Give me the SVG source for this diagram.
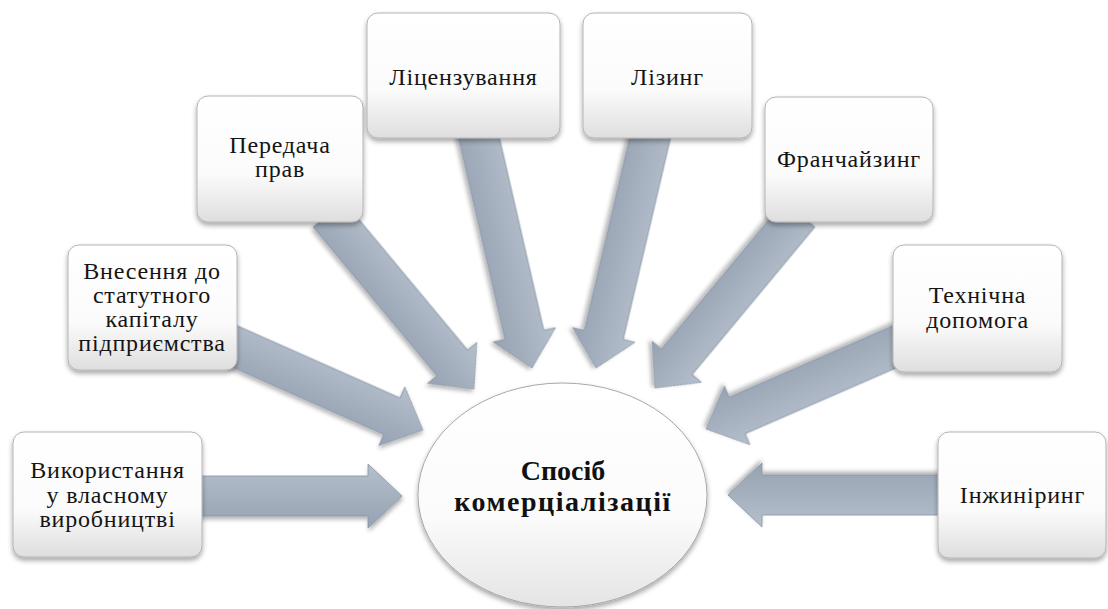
<svg xmlns="http://www.w3.org/2000/svg" width="1108" height="609" viewBox="0 0 1108 609">
  <defs>
    <linearGradient id="boxFill" x1="0" y1="0" x2="0" y2="1">
      <stop offset="0" stop-color="#ffffff"/>
      <stop offset="0.62" stop-color="#fbfbfb"/>
      <stop offset="1" stop-color="#dedede"/>
    </linearGradient>
    <linearGradient id="ellFill" x1="0" y1="0" x2="0" y2="1">
      <stop offset="0" stop-color="#ffffff"/>
      <stop offset="0.6" stop-color="#fbfbfb"/>
      <stop offset="1" stop-color="#e4e4e4"/>
    </linearGradient>
    <linearGradient id="arrowFill" x1="0" y1="0" x2="0" y2="1">
      <stop offset="0" stop-color="#b5bfcc"/>
      <stop offset="1" stop-color="#96a2b2"/>
    </linearGradient>
    <filter id="shadow" x="-20%" y="-20%" width="140%" height="150%">
      <feDropShadow dx="0" dy="3" stdDeviation="2.5" flood-color="#000" flood-opacity="0.35"/>
    </filter>
    <filter id="ashadow" x="-20%" y="-30%" width="140%" height="160%">
      <feDropShadow dx="1" dy="3" stdDeviation="2" flood-color="#000" flood-opacity="0.3"/>
    </filter>
  </defs>
  <style>
    .box { fill: url(#boxFill); stroke: #b4b4b4; stroke-width: 1; filter: url(#shadow); }
    .arrow { fill: url(#arrowFill); stroke: #8894a4; stroke-width: 0.8; filter: url(#ashadow); }
    .t { font-family: "Liberation Serif", "Times New Roman", serif; font-size: 24px; letter-spacing: 0.8px; fill: #141414; text-anchor: middle; }
    .tb { font-family: "Liberation Serif", "Times New Roman", serif; font-size: 28px; font-weight: bold; fill: #111; text-anchor: middle; }
  </style>
  <rect width="1108" height="609" fill="#ffffff"/>

  <g id="connectors">
    <path class="arrow" transform="translate(202,496) rotate(0)" d="M-10,-20 L166,-20 L166,-32 L200,0 L166,32 L166,20 L-10,20 Z"/>
    <path class="arrow" transform="translate(237,347.5) rotate(23.92)" d="M-10,-20 L169.5,-20 L169.5,-32 L203.5,0 L169.5,32 L169.5,20 L-10,20 Z"/>
    <path class="arrow" transform="translate(335,222) rotate(50.23)" d="M-10,-20 L183.3,-20 L183.3,-32 L217.3,0 L183.3,32 L183.3,20 L-10,20 Z"/>
    <path class="arrow" transform="translate(479,138) rotate(77.02)" d="M-10,-20 L202,-20 L202,-32 L236,0 L202,32 L202,20 L-10,20 Z"/>
    <path class="arrow" transform="translate(650,138) rotate(103.21)" d="M-10,-20 L202.3,-20 L202.3,-32 L236.3,0 L202.3,32 L202.3,20 L-10,20 Z"/>
    <path class="arrow" transform="translate(793,222) rotate(129.74)" d="M-10,-20 L181.9,-20 L181.9,-32 L215.9,0 L181.9,32 L181.9,20 L-10,20 Z"/>
    <path class="arrow" transform="translate(893,347.5) rotate(156.45)" d="M-10,-20 L170,-20 L170,-32 L204,0 L170,32 L170,20 L-10,20 Z"/>
    <path class="arrow" transform="translate(938,495) rotate(180)" d="M-10,-20 L176,-20 L176,-32 L210,0 L176,32 L176,20 L-10,20 Z"/>
  </g>

  <g id="center">
    <ellipse cx="562.5" cy="495" rx="144.5" ry="112" fill="url(#ellFill)" stroke="#a8a8a8" stroke-width="1" filter="url(#shadow)"/>
    <text class="tb" x="563" y="480">Спосіб<tspan x="563" dy="31" letter-spacing="1.5">комерціалізації</tspan></text>
  </g>

  <g id="node-vykorystannia">
    <rect class="box" x="13" y="432" width="189" height="125" rx="11"/>
    <text class="t" x="107.5" y="478">Використання<tspan x="107.5" dy="24.5">у власному</tspan><tspan x="107.5" dy="24.5">виробництві</tspan></text>
  </g>

  <g id="node-vnesennia">
    <rect class="box" x="68" y="245" width="169" height="125" rx="11"/>
    <text class="t" x="152" y="279">Внесення до<tspan x="152" dy="24">статутного</tspan><tspan x="152" dy="24">капіталу</tspan><tspan x="152" dy="24">підприємства</tspan></text>
  </g>

  <g id="node-peredacha">
    <rect class="box" x="197" y="96" width="166" height="126" rx="11"/>
    <text class="t" x="280" y="153">Передача<tspan x="280" dy="24">прав</tspan></text>
  </g>

  <g id="node-litsenzuvannia">
    <rect class="box" x="367" y="13" width="193" height="125" rx="11"/>
    <text class="t" x="463.5" y="85">Ліцензування</text>
  </g>

  <g id="node-lizynh">
    <rect class="box" x="583" y="13" width="169" height="125" rx="11"/>
    <text class="t" x="667.5" y="85">Лізинг</text>
  </g>

  <g id="node-franchaizynh">
    <rect class="box" x="765" y="97" width="168" height="125" rx="11"/>
    <text class="t" x="849" y="167">Франчайзинг</text>
  </g>

  <g id="node-tekhnichna">
    <rect class="box" x="893" y="245" width="169" height="127" rx="11"/>
    <text class="t" x="977.5" y="303">Технічна<tspan x="977.5" dy="24.5">допомога</tspan></text>
  </g>

  <g id="node-inzhyniryng">
    <rect class="box" x="938" y="432" width="168" height="126" rx="11"/>
    <text class="t" x="1022.5" y="503">Інжиніринг</text>
  </g>
</svg>
